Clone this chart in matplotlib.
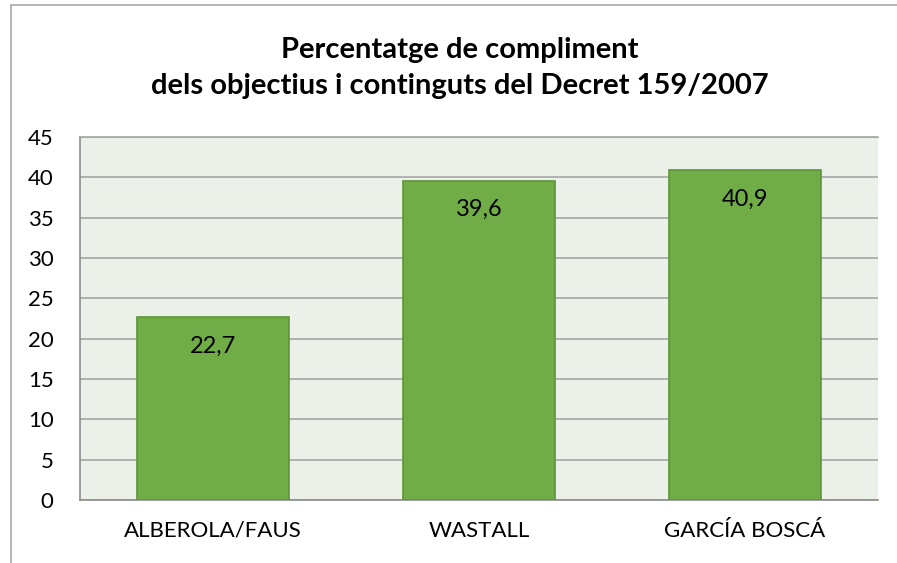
import matplotlib.pyplot as plt
from matplotlib.lines import Line2D

categories = ['ALBEROLA/FAUS', 'WASTALL', 'GARCÍA BOSCÁ']
values = [22.7, 39.6, 40.9]
value_labels = ['22,7', '39,6', '40,9']
yticks = [0, 5, 10, 15, 20, 25, 30, 35, 40, 45]

plt.rcParams['font.family'] = ['Lato', 'DejaVu Sans']

fig = plt.figure(figsize=(8.97, 5.63), dpi=100)
ax = fig.add_axes([80 / 897, 1 - 500 / 563, 798 / 897, 363 / 563])
ax.set_facecolor('#EBF0E8')

x = range(len(categories))
bars = ax.bar(x, values, width=0.575, color='#70AD47', edgecolor='#5E9437', linewidth=1.2, zorder=3)
for b, lab in zip(bars, value_labels):
    ax.annotate(lab, (b.get_x() + b.get_width() / 2, b.get_height()), xytext=(0, -29),
                textcoords='offset pixels', ha='center', va='center', fontsize=17, color='black', zorder=4)

ax.set_xlim(-0.5, len(categories) - 0.5)
ax.set_ylim(0, 45)
ax.set_yticks(yticks)
ax.set_xticks(list(x))
ax.set_xticklabels(categories)
ax.tick_params(axis='both', length=0, labelsize=16)
ax.tick_params(axis='x', pad=15)
ax.tick_params(axis='y', pad=19)
ax.grid(axis='y', color='#A6A6A6', linewidth=1.2, zorder=1)
for s in ['left', 'bottom', 'top']:
    ax.spines[s].set_color('#8C8C8C')
    ax.spines[s].set_linewidth(1.2)
ax.spines['top'].set_color('#A6A6A6')
ax.spines['right'].set_visible(False)

fig.text(460 / 897, 1 - 50 / 563, 'Percentatge de compliment', ha='center', va='center',
         fontsize=21, fontweight='bold')
fig.text(460 / 897, 1 - 86 / 563, 'dels objectius i continguts del Decret 159/2007', ha='center', va='center',
         fontsize=21, fontweight='bold')

# outer chart frame (cropped on right and bottom)
fig.add_artist(Line2D([11 / 897, 11 / 897], [0, 1 - 5 / 563], color='#B0B0B0', linewidth=1.3))
fig.add_artist(Line2D([11 / 897, 1], [1 - 5 / 563, 1 - 5 / 563], color='#B0B0B0', linewidth=1.3))

fig.savefig('out.png', dpi=100)
